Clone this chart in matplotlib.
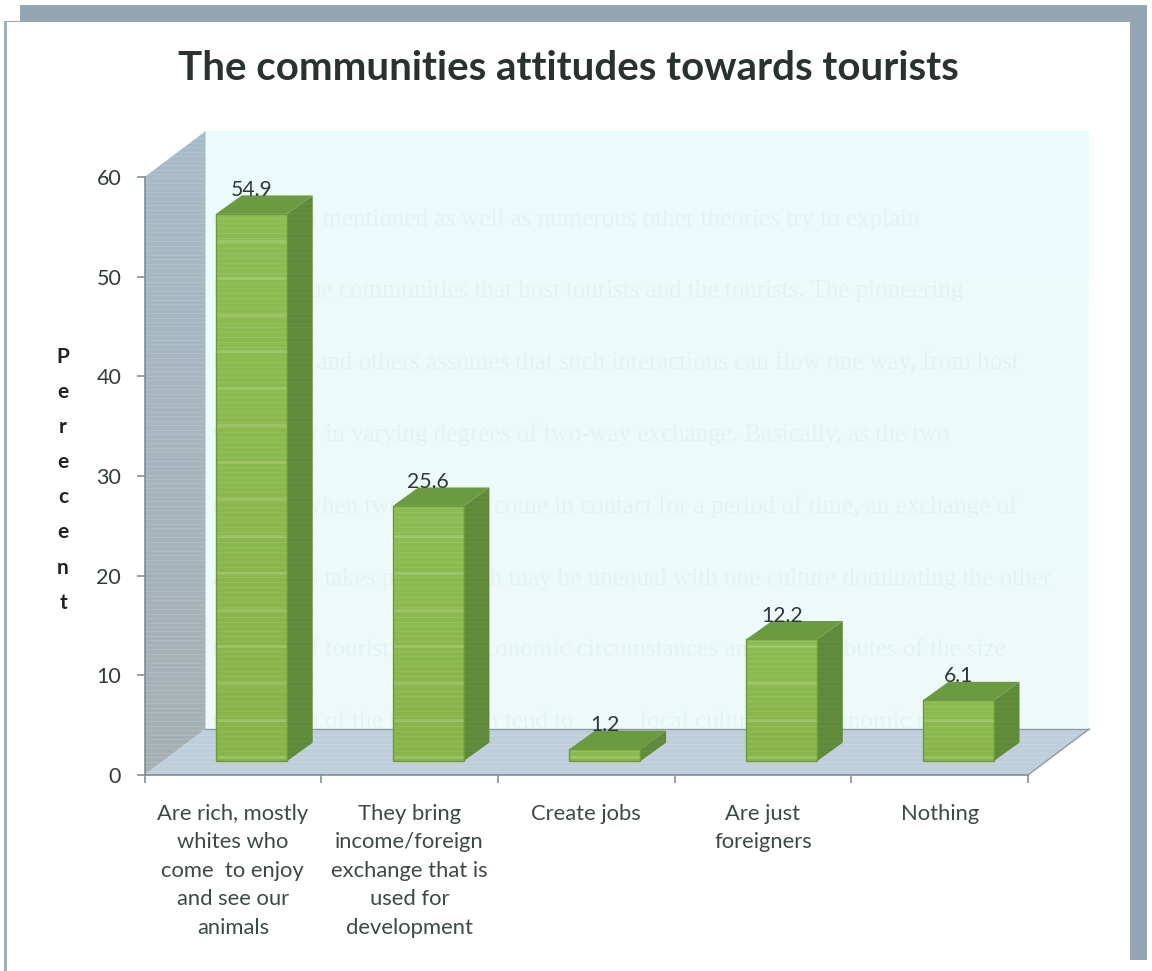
import matplotlib
matplotlib.use('Agg')
import matplotlib.pyplot as plt
from matplotlib.patches import Polygon, Rectangle
import numpy as np

categories = ['Are rich, mostly\nwhites who\ncome  to enjoy\nand see our\nanimals',
              'They bring\nincome/foreign\nexchange that is\nused for\ndevelopment',
              'Create jobs',
              'Are just\nforeigners',
              'Nothing']
values = [54.9, 25.6, 1.2, 12.2, 6.1]
y_ticks = [0, 10, 20, 30, 40, 50, 60]
y_label = 'Perecent'
title = 'The communities attitudes towards tourists'
backdrop_lines = [
    "discussion mentioned as well as numerous other theories try to explain",
    'between the communities that host tourists and the tourists. The pioneering',
    'by Doxey and others assumes that such interactions can flow one way, from host',
    'visitors, or in varying degrees of two-way exchange. Basically, as the two',
    'cultures, when two cultures come in contact for a period of time, an exchange of',
    'and values takes place which may be unequal with one culture dominating the other',
    'the type of tourist, social, economic circumstances and the attributes of the size',
    'population of the host which tend to',
    'local culture and economic roles',
]
backdrop_rows = [220, 291, 363, 435, 507, 579, 650, 722, 722]
backdrop_starts = [212, 212, 212, 212, 212, 212, 212, 212, 640]

W, H = 1152, 971
plt.rcParams['font.family'] = ['Lato', 'DejaVu Sans']
fig = plt.figure(figsize=(W / 100, H / 100), dpi=100, facecolor='white')

# frame behind the chart
frame = fig.add_axes([0, 0, 1, 1])
frame.set_xlim(0, W)
frame.set_ylim(H, 0)
frame.axis('off')
frame.add_patch(Rectangle((20, 5), 1127, 17, color='#93a6b2', lw=0))
frame.add_patch(Rectangle((1130, 5), 17, 955, color='#93a6b2', lw=0))
frame.add_patch(Rectangle((4, 21), 1126, 1.5, color='#8fa3b5', lw=0))
frame.add_patch(Rectangle((4, 21), 3, 950, color='#9fb0ba', lw=0))

# axes spans the 3d front plane, x in category slots and y in percent
x0, x1 = 144.5, 1028
y0, y1 = 775, 177
ax = fig.add_axes([x0 / W, 1 - y0 / H, (x1 - x0) / W, (y0 - y1) / H])
ax.set_xlim(0, 5)
ax.set_ylim(0, 60)
ax.patch.set_alpha(0)
for s in ['top', 'right']:
    ax.spines[s].set_visible(False)
for s in ['left', 'bottom']:
    ax.spines[s].set_color('#7d8f99')
    ax.spines[s].set_linewidth(1.2)
    ax.spines[s].set_zorder(8)

dx, dy = 0.345, 4.6               # wall depth in data units
bar_dx, bar_dy = 0.145, 1.85      # bar depth
bar_off, bar_w, bar_base = 0.405, 0.402, 1.4


def poly(points, color, z, **kw):
    p = Polygon(points, closed=True, facecolor=color, edgecolor=kw.pop('ec', 'none'),
                lw=kw.pop('lw', 0), zorder=z, clip_on=False, **kw)
    ax.add_patch(p)
    return p


def gradient(points, top_color, bottom_color, z, extent):
    # vertical gradient clipped to a polygon, walls reach past the axes box
    clip = poly(points, 'none', z)
    c = np.linspace(0, 1, 64)[:, None, None]
    a = np.array(matplotlib.colors.to_rgb(top_color))
    b = np.array(matplotlib.colors.to_rgb(bottom_color))
    im = ax.imshow(a * (1 - c) + b * c, extent=extent, origin='upper', aspect='auto', zorder=z)
    im.set_clip_path(clip)
    im.set_clip_box(fig.bbox)


def stripes(points, y_low, y_high, z, step=0.55, alpha=0.07, lw=0.7):
    clip = poly(points, 'none', z)
    left = min(p[0] for p in points)
    right = max(p[0] for p in points)
    lines = ax.hlines(np.arange(y_low, y_high, step), left, right, color='white',
                      lw=lw, alpha=alpha, zorder=z)
    lines.set_clip_path(clip)
    lines.set_clip_box(fig.bbox)


# back wall, side wall, floor
gradient([(dx, dy), (5 + dx, dy), (5 + dx, 60 + dy), (dx, 60 + dy)],
         '#ebfafa', '#effbfb', 1, (dx, 5 + dx, dy, 60 + dy))
side = [(0, 0), (dx, dy), (dx, 60 + dy), (0, 60)]
gradient(side, '#a8bbc8', '#a6afb3', 2, (0, dx, 0, 60 + dy))
stripes(side, 0, 60 + dy, 2.5, step=0.45, alpha=0.12)
floor = [(0, 0), (5, 0), (5 + dx, dy), (dx, dy)]
poly(floor, '#bfcedb', 3)
stripes(floor, 0, dy, 3.5, step=0.45, alpha=0.14)
ax.plot([dx, 5 + dx], [dy, dy], color='#8a9ba6', lw=1, zorder=3.6, clip_on=False)
ax.plot([5, 5 + dx], [0, dy], color='#8a9ba6', lw=1, zorder=3.6, clip_on=False)

# faint lines of print showing through the page
for row, start, line in zip(backdrop_rows, backdrop_starts, backdrop_lines):
    ax.text(start, row, line, fontsize=18, family='Liberation Serif', color='#7fb0b8',
            alpha=0.09, va='center', zorder=4, transform=frame.transData, clip_on=False)

# bars
for i, v in enumerate(values):
    l = i + bar_off
    r = l + bar_w
    t = bar_base + v
    b = bar_base
    base_z = 5 + i
    front = [(l, b), (r, b), (r, t), (l, t)]
    right = [(r, b), (r + bar_dx, b + bar_dy), (r + bar_dx, t + bar_dy), (r, t)]
    top = [(l, t), (r, t), (r + bar_dx, t + bar_dy), (l + bar_dx, t + bar_dy)]
    gradient(front, '#8dbd52', '#88b549', base_z, (l, r, b, t))
    stripes(front, b, t, base_z + 0.1, step=0.5, alpha=0.09)
    stripes(front, b + 0.4, t, base_z + 0.1, step=3.7, alpha=0.16, lw=1.8)
    poly(front, 'none', base_z + 0.2, ec='#6f9a3c', lw=1.0)
    poly(right, '#5f8a3a', base_z)
    stripes(right, b, t + bar_dy, base_z + 0.1, step=0.5, alpha=0.05)
    poly(top, '#6b9a40', base_z)
    ax.text(l + bar_w / 2, t + bar_dy + 0.55, f'{v}', ha='center', va='center',
            fontsize=15.2, color='#303838', zorder=20, clip_on=False)

ax.set_xticks(range(6))
ax.set_xticklabels([])
ax.set_yticks(y_ticks)
ax.tick_params(axis='y', length=5.8, width=1.2, color='#7d8f99', labelsize=15.5,
               labelcolor='#333b3d', pad=11)
ax.tick_params(axis='x', length=5.8, width=1.2, color='#7d8f99')

for i, c in enumerate(categories):
    ax.annotate(c, (i + 0.5, 0), xytext=(0, -29), textcoords='offset pixels', ha='center', va='top',
                fontsize=15.8, color='#3f4848', linespacing=1.53, annotation_clip=False)

# stacked axis label, one letter per row
for i, ch in enumerate(y_label):
    frame.text(63, 357 + i * 35.1, ch, ha='center', va='center', fontsize=15,
               fontweight='bold', color='#222222')

frame.text(568.5, 69, title, ha='center', va='center', fontsize=29, fontweight='bold',
           color='#2a3230')

fig.savefig('out.png', dpi=100)
